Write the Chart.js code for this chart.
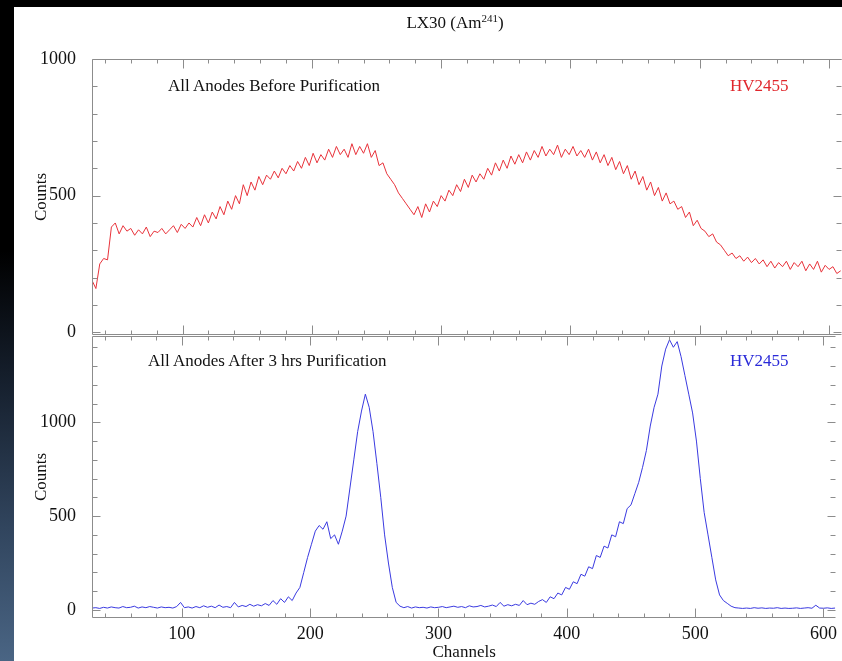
<!DOCTYPE html>
<html>
<head>
<meta charset="utf-8">
<script src="https://cdn.jsdelivr.net/npm/chart.js@4.4.1/dist/chart.umd.min.js"></script>
<style>
  body{margin:0;background:#000;}
  #wrap{position:relative;width:842px;height:661px;overflow:hidden;background:#000;font-family:"Liberation Serif",serif;}
  #strip{position:absolute;left:0;top:0;width:14px;height:661px;
    background:linear-gradient(to bottom,#000 0%,#000 38%,#16202e 58%,#31455e 80%,#4a6584 100%);}
  #paper{position:absolute;left:14px;top:7px;width:828px;height:654px;background:#fff;}
  canvas{position:absolute;left:0;top:0;}
  .lbl{position:absolute;font-size:17px;line-height:1;white-space:nowrap;color:#111;}
  .lbl sup{font-size:11px;vertical-align:6px;line-height:0;}
</style>
</head>
<body>
<div id="wrap">
  <div id="strip"></div>
  <div id="paper"></div>
  <canvas id="top-chart" width="842" height="661"></canvas>
  <canvas id="bot-chart" width="842" height="661"></canvas>
  <div class="lbl" style="left:455px;top:14px;transform:translateX(-50%);">LX30 (Am<sup>241</sup>)</div>
  <div class="lbl" style="left:168px;top:77px;">All Anodes Before Purification</div>
  <div class="lbl" style="left:730px;top:77px;color:#e0262c;">HV2455</div>
  <div class="lbl" style="left:148px;top:352px;">All Anodes After 3 hrs Purification</div>
  <div class="lbl" style="left:730px;top:352px;color:#2a2ad8;">HV2455</div>
</div>

<script>
// channels: 30, 33, ... 609
const chStart=30, chStep=3;
const channels=Array.from({length:194},(_,i)=>chStart+i*chStep);

// counts before purification (red)
const before=[
  190,160,250,270,265,385,400,360,390,370,
  380,355,375,360,385,350,370,365,380,360,
  375,390,365,395,380,400,385,420,390,430,
  400,440,415,460,430,480,450,500,470,540,
  500,550,520,570,540,575,560,590,565,600,
  580,610,590,625,600,640,610,655,620,650,
  630,670,640,680,650,670,640,690,650,680,
  655,690,640,665,610,620,580,560,540,510,
  490,470,450,430,460,420,470,440,480,460,
  500,480,520,500,540,515,560,530,575,550,
  580,560,600,575,620,590,630,600,645,615,
  650,620,660,630,665,640,680,645,670,650,
  685,640,670,650,680,645,665,640,670,630,
  660,620,650,610,640,595,625,580,610,560,
  590,540,570,520,550,500,530,480,510,470,
  480,450,460,420,440,390,410,380,370,350,
  360,330,320,300,280,290,270,280,260,275,
  255,270,250,265,240,260,235,255,240,260,
  230,255,240,260,225,250,230,260,220,245,
  230,240,215,225
];

// counts after 3 hrs purification (blue)
const after=[
  10,12,8,14,10,16,12,10,18,12,
  14,20,10,16,12,18,14,10,16,12,
  14,10,18,40,12,16,10,18,12,22,
  14,20,12,26,14,18,12,40,16,24,
  18,30,20,28,22,34,24,50,30,60,
  40,70,50,90,120,200,280,350,420,450,
  430,470,380,400,350,420,500,650,800,950,
  1060,1150,1080,950,780,600,400,250,120,40,
  20,12,18,10,16,12,14,10,16,12,
  14,18,12,16,20,14,18,12,22,16,
  18,24,16,20,26,18,40,20,28,22,
  30,24,50,28,36,30,45,55,40,70,
  60,90,80,120,110,150,140,190,180,230,
  220,290,280,340,330,400,390,470,460,540,
  560,620,680,760,850,980,1080,1150,1300,1390,
  1440,1400,1430,1350,1250,1150,1050,900,700,520,
  400,280,160,80,50,35,20,12,10,8,
  10,8,12,9,11,8,10,9,12,8,
  10,8,9,11,8,10,12,9,25,10,
  9,11,8,10
];

const xLabels=[100,200,300,400,500,600];
const topYLabels=[0,500,1000];
const botYLabels=[0,500,1000];
const xRange=[30,610], topRange=[-10,1000], botRange=[-43,1460];

const serif='"Liberation Serif", serif';
const axisGray='#8c8c8c';

// frame with inward tick marks on all sides
const framePlugin={
  id:'frame',
  afterDatasetsDraw(chart){
    const {ctx,chartArea:a,scales:{x,y}}=chart;
    const L=Math.round(a.left)+0.5, R=Math.round(a.right)-0.5;
    const T=Math.round(a.top)+0.5, B=Math.round(a.bottom)-0.5;
    ctx.save();
    ctx.strokeStyle=axisGray; ctx.lineWidth=1;
    ctx.beginPath();
    ctx.moveTo(L,T); ctx.lineTo(L,B);
    ctx.moveTo(L,T); ctx.lineTo(R,T);
    ctx.moveTo(L,B); ctx.lineTo(R,B);
    for(let v=40; v<=600; v+=20){
      const px=Math.round(x.getPixelForValue(v))+0.5;
      const len=v%100===0?9:4;
      ctx.moveTo(px,T); ctx.lineTo(px,T+len);
      ctx.moveTo(px,B); ctx.lineTo(px,B-len);
    }
    for(let v=0; v<=y.max; v+=100){
      const py=Math.round(y.getPixelForValue(v))+0.5;
      const len=v%500===0?8:5;
      ctx.moveTo(L,py); ctx.lineTo(L+len,py);
      ctx.moveTo(R,py); ctx.lineTo(R-len,py);
    }
    ctx.stroke();
    ctx.restore();
  }
};

function makeChart(id, values, color, yRange, yLabels, pad, xHeight, showX){
  return new Chart(document.getElementById(id),{
    type:'line',
    data:{datasets:[{
      data:channels.map((c,i)=>({x:c,y:values[i]})),
      borderColor:color,borderWidth:1,pointRadius:0,tension:0,fill:false
    }]},
    options:{
      responsive:false,animation:false,
      layout:{padding:pad},
      plugins:{legend:{display:false},tooltip:{enabled:false}},
      scales:{
        x:{type:'linear',min:xRange[0],max:xRange[1],
           grid:{display:false,drawTicks:false},border:{display:false},
           afterBuildTicks:s=>{s.ticks=xLabels.map(v=>({value:v}));},
           afterFit:s=>{s.height=xHeight;},
           ticks:{display:showX,padding:5,color:'#111',callback:v=>String(v),
                  font:{family:serif,size:18}},
           title:{display:showX,text:'Channels',color:'#111',padding:0,
                  font:{family:serif,size:17,lineHeight:1}}},
        y:{min:yRange[0],max:yRange[1],
           grid:{display:false,drawTicks:false},border:{display:false},
           afterBuildTicks:s=>{s.ticks=yLabels.map(v=>({value:v}));},
           afterFit:s=>{s.width=78;},
           ticks:{padding:16,color:'#111',callback:v=>String(v),
                  font:{family:serif,size:18}},
           title:{display:true,text:'Counts',color:'#111',padding:{top:19,bottom:0},
                  font:{family:serif,size:17,lineHeight:1}}}
      }
    },
    plugins:[framePlugin]
  });
}

makeChart('top-chart',before,'#e8323a',topRange,topYLabels,{left:14,top:59,right:0,bottom:326},0,false);
makeChart('bot-chart',after,'#3a3ae0',botRange,botYLabels,{left:14,top:336,right:0,bottom:0},43,true);
</script>
</body>
</html>
